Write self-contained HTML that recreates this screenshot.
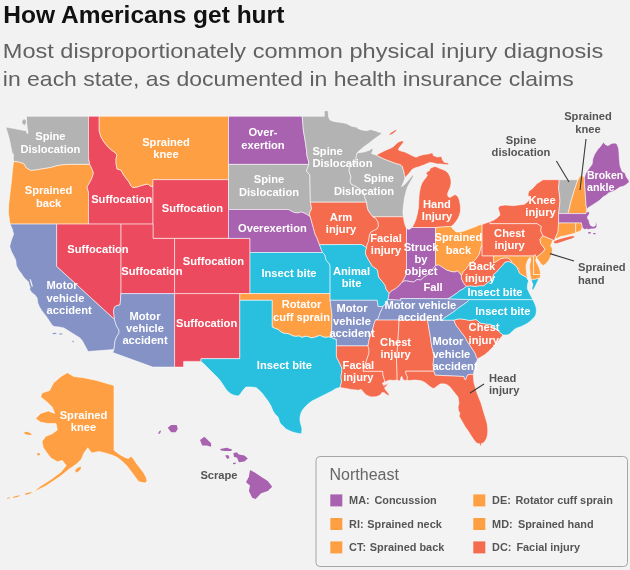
<!DOCTYPE html>
<html lang="en"><head><meta charset="utf-8"><title>How Americans get hurt</title>
<style>
html,body{margin:0;padding:0;background:#f2f2f2;}
body{width:630px;height:570px;overflow:hidden;font-family:"Liberation Sans",Arial,Helvetica,sans-serif;}
svg{display:block;}
.st path{stroke:#fff;stroke-width:0.75;stroke-linejoin:round;stroke-opacity:0.72}
.w{fill:#fff;font-weight:bold;font-size:11.15px;}
.d{fill:#555;font-weight:bold;font-size:11.15px;}
.ld{stroke:#3a3a3a;stroke-width:1.1;fill:none}
.t1{font-weight:bold;font-size:23.6px;fill:#111;}
.t2{font-size:21px;fill:#616161;}
.lt{font-size:16px;fill:#666;}
.li{font-weight:bold;font-size:10.9px;fill:#555;}
</style></head><body>
<svg width="630" height="570" viewBox="0 0 630 570" font-family="'Liberation Sans',Arial,Helvetica,sans-serif">
<rect width="630" height="570" fill="#f2f2f2"/>
<text class="t1" x="3.3" y="22.7" textLength="281" lengthAdjust="spacingAndGlyphs">How Americans get hurt</text>
<text class="t2" x="2.8" y="58" textLength="600.5" lengthAdjust="spacingAndGlyphs">Most disproportionately common physical injury diagnosis</text>
<text class="t2" x="2.8" y="86" textLength="571" lengthAdjust="spacingAndGlyphs">in each state, as documented in health insurance claims</text>
<g class="st">
<path id="WA" fill="#b3b3b3" d="M26.4,116.3L88.5,116.3L88.5,158.0L89.8,164.4L68.6,164.4L62.9,164.8L57.1,165.7L50.0,167.7L42.9,168.8L35.7,170.0L30.7,170.5L26.4,167.9L23.6,163.6L18.6,162.1L13.6,161.4L13.2,158.0L13.6,154.3L12.1,152.9L11.1,147.9L10.0,142.1L8.6,136.4L7.1,131.4L5.7,127.1L14.3,128.6L21.4,130.0L26.4,130.7L26.8,133.0L28.0,133.5L27.6,130.0L27.0,126.0L26.6,121.0Z"/>
<path id="OR" fill="#ff9f43" d="M13.6,161.4L18.6,162.1L23.6,163.6L26.4,167.9L30.7,170.5L35.7,170.0L42.9,168.8L50.0,167.7L57.1,165.7L62.9,164.8L68.6,164.4L89.8,164.4L92.0,169.0L93.5,173.0L92.0,178.0L90.0,182.0L87.0,187.0L88.5,192.0L88.5,224.1L56.6,224.1L10.0,224.1L8.4,213.0L8.6,205.0L9.5,197.0L10.6,188.0L11.6,180.0L12.3,172.0L13.0,166.0Z"/>
<path id="ID" fill="#ec4a5e" d="M88.5,116.3L99.2,116.3L99.2,131.0L101.0,137.0L104.0,142.0L108.0,147.0L112.0,150.5L114.5,152.0L117.0,155.0L116.0,159.0L116.0,163.0L117.0,169.0L121.0,170.0L123.0,174.0L125.0,177.0L129.0,182.0L131.0,186.0L133.0,187.5L137.0,187.0L140.0,186.0L145.0,184.5L148.0,184.0L150.0,186.0L153.0,186.5L153.0,224.1L88.5,224.1L88.5,192.0L87.0,187.0L90.0,182.0L92.0,178.0L93.5,173.0L92.0,169.0L89.8,164.4L88.5,158.0Z"/>
<path id="MT" fill="#ff9f43" d="M99.2,116.3L228.5,116.3L228.5,179.7L153.0,179.7L153.0,186.5L150.0,186.0L148.0,184.0L145.0,184.5L140.0,186.0L137.0,187.0L133.0,187.5L131.0,186.0L129.0,182.0L125.0,177.0L123.0,174.0L121.0,170.0L117.0,169.0L116.0,163.0L116.0,159.0L117.0,155.0L114.5,152.0L112.0,150.5L108.0,147.0L104.0,142.0L101.0,137.0L99.2,131.0Z"/>
<path id="WY" fill="#ec4a5e" d="M153.0,179.7L228.5,179.7L228.5,238.4L153.0,238.4Z"/>
<path id="UT" fill="#ec4a5e" d="M120.8,224.1L153.0,224.1L153.0,238.4L174.6,238.4L174.6,293.6L120.8,293.6Z"/>
<path id="CO" fill="#ec4a5e" d="M174.6,238.4L250.0,238.4L250.0,293.6L174.6,293.6Z"/>
<path id="NV" fill="#ec4a5e" d="M56.6,224.1L120.8,224.1L120.8,293.6L120.5,300.0L120.0,305.0L117.0,305.5L114.5,307.0L113.5,311.0L114.0,315.0L114.5,319.5L56.6,266.4Z"/>
<path id="CA" fill="#8592c6" d="M10.0,224.1L56.6,224.1L56.6,266.4L114.5,319.5L115.5,323.0L116.5,326.0L119.0,330.0L119.0,333.0L116.5,337.0L115.0,341.0L114.5,345.0L114.0,349.5L88.0,351.5L86.0,347.5L84.0,344.0L82.5,341.0L80.0,338.0L76.0,335.5L72.0,333.0L68.0,330.5L64.0,328.0L59.0,327.0L54.0,326.5L52.0,325.0L50.0,322.0L48.0,319.0L46.0,316.0L44.0,313.5L42.0,311.0L39.5,307.0L37.8,303.0L37.1,297.9L35.0,295.0L32.1,292.9L29.6,289.5L30.2,287.5L29.0,284.5L28.5,281.8L26.4,280.0L23.6,277.1L21.4,273.6L18.6,270.0L16.4,265.7L15.7,260.0L13.6,255.7L11.4,251.4L9.7,246.4L11.4,240.0L13.6,234.3L12.1,228.6Z"/>
<path id="AZ" fill="#8592c6" d="M120.8,293.6L174.6,293.6L174.6,367.1L152.8,367.1L112.7,352.5L114.0,349.5L114.5,345.0L115.0,341.0L116.5,337.0L119.0,333.0L119.0,330.0L116.5,326.0L115.5,323.0L114.5,319.5L114.0,315.0L113.5,311.0L114.5,307.0L117.0,305.5L120.0,305.0L120.5,300.0Z"/>
<path id="NM" fill="#ec4a5e" d="M174.6,293.6L239.8,293.6L239.8,358.7L201.0,358.7L201.0,361.4L183.6,361.4L183.6,367.1L174.6,367.1Z"/>
<path id="ND" fill="#a862b0" d="M228.5,116.3L302.2,116.3L302.8,123.0L303.3,130.0L304.5,137.0L305.5,143.0L306.6,150.7L307.0,156.0L308.5,161.0L309.0,164.4L228.5,164.4Z"/>
<path id="SD" fill="#b3b3b3" d="M228.5,164.4L309.0,164.4L307.5,168.0L306.5,171.0L308.0,173.0L309.8,174.5L310.4,202.2L311.0,205.0L311.5,209.0L310.0,212.0L309.5,214.5L310.4,217.0L307.0,214.5L304.0,213.0L301.0,212.0L298.0,213.0L294.0,212.5L291.0,211.0L288.3,209.5L228.5,209.5Z"/>
<path id="NE" fill="#a862b0" d="M228.5,209.5L288.3,209.5L291.0,211.0L294.0,212.5L298.0,213.0L301.0,212.0L304.0,213.0L307.0,214.5L310.4,217.0L311.5,221.0L312.5,225.0L314.0,230.0L315.0,234.0L317.0,238.0L318.5,242.0L319.5,244.7L321.0,249.0L322.6,252.5L250.0,252.5L250.0,238.4L228.5,238.4Z"/>
<path id="KS" fill="#29bfdf" d="M250.0,252.5L322.6,252.5L325.0,255.0L326.0,260.0L329.5,264.0L330.1,266.0L330.1,293.6L250.0,293.6Z"/>
<path id="OK" fill="#ff9f43" d="M239.8,293.6L330.1,293.6L330.1,300.3L332.0,315.0L331.5,337.5L328.5,336.9L326.0,337.4L323.0,336.9L320.0,335.4L317.0,336.4L314.0,337.4L311.0,337.9L308.0,336.4L305.0,336.4L302.0,337.4L299.0,335.9L296.0,336.4L293.0,335.9L290.0,334.4L287.0,333.4L284.0,333.4L281.0,331.9L278.0,329.4L275.0,328.4L272.1,327.0L272.1,300.3L239.8,300.3Z"/>
<path id="TX" fill="#29bfdf" d="M239.8,300.3L272.1,300.3L272.1,327.0L275.0,328.4L278.0,329.4L281.0,331.9L284.0,333.4L287.0,333.4L290.0,334.4L293.0,335.9L296.0,336.4L299.0,335.9L302.0,337.4L305.0,336.4L308.0,336.4L311.0,337.9L314.0,337.4L317.0,336.4L320.0,335.4L323.0,336.9L326.0,337.4L328.5,336.9L331.5,337.5L336.4,339.5L336.4,345.9L336.4,357.0L338.5,361.0L340.5,365.0L342.0,369.0L341.5,373.0L341.0,377.0L341.5,382.0L340.0,387.5L336.0,388.5L332.0,391.0L328.0,393.0L324.0,395.0L320.0,397.0L316.0,399.0L312.0,401.0L308.0,404.0L305.0,407.0L302.5,410.0L301.0,413.0L300.0,417.0L300.0,421.0L301.0,425.0L302.0,429.0L301.5,434.0L294.0,432.5L290.0,431.0L286.0,429.0L283.0,426.0L280.0,423.0L279.0,420.0L278.0,417.0L275.0,414.0L273.0,411.0L271.0,406.0L268.0,401.0L265.0,397.0L262.0,393.0L259.0,390.0L256.0,387.5L251.0,387.0L246.0,387.0L244.0,389.0L242.0,391.5L240.0,394.5L238.0,396.0L235.0,395.5L232.0,394.5L229.0,392.5L226.5,390.0L224.5,387.0L222.5,384.0L220.5,381.0L218.0,378.0L215.0,375.0L211.0,371.0L207.0,367.0L204.0,364.0L201.0,361.4L201.0,358.7L239.8,358.7Z"/>
<path id="MN" fill="#b3b3b3" d="M302.2,116.3L324.3,116.3L324.3,110.7L328.1,110.7L328.6,117.0L330.0,120.0L333.6,121.4L337.9,122.1L343.6,122.9L346.4,123.6L349.5,125.2L352.1,126.4L356.4,127.1L357.9,128.6L362.1,130.0L366.4,130.7L370.7,129.5L375.0,130.7L378.5,132.0L382.3,133.2L378.5,136.0L375.0,138.6L372.0,140.8L369.3,142.9L363.6,147.1L359.3,150.7L357.0,153.0L356.0,158.0L356.0,163.0L352.0,164.5L350.0,166.0L349.0,170.0L350.0,174.0L351.0,177.0L350.0,181.0L351.0,184.0L354.0,185.5L357.0,187.0L360.0,189.0L362.0,191.5L364.0,194.0L365.0,198.0L366.7,202.2L310.4,202.2L309.8,174.5L308.0,173.0L306.5,171.0L307.5,168.0L309.0,164.4L308.5,161.0L307.0,156.0L306.6,150.7L305.5,143.0L304.5,137.0L303.3,130.0L302.8,123.0Z"/>
<path id="IA" fill="#f56b4e" d="M310.4,202.2L366.7,202.2L367.0,206.0L368.0,210.0L370.0,213.0L373.0,216.8L376.0,218.5L378.0,222.0L378.5,226.0L377.0,229.0L374.0,230.5L371.0,232.0L369.5,235.0L369.0,238.0L368.5,241.5L367.0,245.0L366.5,248.0L364.0,246.0L361.2,244.5L319.5,244.7L318.5,242.0L317.0,238.0L315.0,234.0L314.0,230.0L312.5,225.0L311.5,221.0L310.4,217.0L309.5,214.5L310.0,212.0L311.5,209.0L311.0,205.0Z"/>
<path id="MO" fill="#29bfdf" d="M319.5,244.7L361.2,244.5L364.0,246.0L366.5,248.0L365.5,251.0L365.5,254.0L367.0,257.0L368.5,260.0L370.5,263.0L372.0,266.0L375.0,268.0L377.5,270.0L378.0,273.0L378.5,277.0L381.0,280.0L383.5,283.0L385.5,286.0L386.0,289.0L387.5,291.0L389.2,293.6L388.6,296.5L388.0,299.5L385.8,303.0L383.0,306.5L378.0,306.5L377.5,303.0L377.0,300.3L330.1,300.3L330.1,293.6L330.1,266.0L329.5,264.0L326.0,260.0L325.0,255.0L322.6,252.5L321.0,249.0Z"/>
<path id="AR" fill="#8592c6" d="M330.1,300.3L377.0,300.3L377.5,303.0L378.0,306.5L383.0,306.5L381.5,310.0L380.0,313.0L379.0,316.0L378.0,319.0L375.5,320.1L374.0,324.0L373.0,328.0L372.0,331.0L371.0,334.0L370.0,337.0L369.0,340.0L368.5,343.0L368.0,345.9L336.4,345.9L336.4,339.5L331.5,337.5L332.0,315.0Z"/>
<path id="LA" fill="#f56b4e" d="M336.4,345.9L368.0,345.9L369.0,349.5L369.0,353.0L368.0,356.0L367.0,359.0L366.0,362.0L365.0,365.0L364.0,368.5L363.0,371.2L382.7,371.2L383.0,375.0L384.0,378.5L385.0,382.0L382.5,383.0L383.6,385.5L386.4,384.3L388.6,383.0L387.1,385.2L384.5,387.9L385.7,390.0L388.6,393.6L389.5,396.0L387.1,395.0L384.3,392.8L382.1,392.5L380.0,395.3L376.0,396.7L371.0,396.9L366.5,395.2L363.5,392.2L361.0,389.3L358.6,390.3L351.4,389.5L344.3,388.2L340.0,387.5L341.5,382.0L341.0,377.0L341.5,373.0L342.0,369.0L340.5,365.0L338.5,361.0L336.4,357.0Z"/>
<path id="WI" fill="#b3b3b3" d="M357.0,153.0L360.0,152.5L364.0,152.0L367.0,151.0L370.0,150.0L372.0,148.0L373.0,150.0L371.5,153.5L374.0,154.5L376.5,155.0L380.0,157.0L384.0,159.0L388.0,160.5L392.0,162.0L396.0,163.5L400.0,164.5L402.5,166.5L403.0,169.0L404.0,172.0L404.5,175.0L405.0,178.0L404.0,181.0L402.5,184.5L401.5,186.5L403.5,185.5L406.0,183.0L408.5,180.0L411.0,177.0L413.0,174.5L413.5,176.0L412.0,179.0L410.0,182.5L408.0,186.0L406.5,190.0L405.5,194.0L404.5,198.0L404.0,202.0L403.5,206.0L403.0,210.0L403.0,214.0L403.5,216.8L373.0,216.8L370.0,213.0L368.0,210.0L367.0,206.0L366.7,202.2L365.0,198.0L364.0,194.0L362.0,191.5L360.0,189.0L357.0,187.0L354.0,185.5L351.0,184.0L350.0,181.0L351.0,177.0L350.0,174.0L349.0,170.0L350.0,166.0L352.0,164.5L356.0,163.0L356.0,158.0Z"/>
<path id="IL" fill="#f56b4e" d="M373.0,216.8L403.5,216.8L404.0,221.0L405.0,225.0L406.5,228.5L406.5,273.0L405.5,276.0L404.0,279.0L402.1,282.3L400.5,283.8L399.3,285.5L397.5,287.0L395.7,288.6L392.5,290.3L390.5,291.8L389.2,293.6L387.5,291.0L386.0,289.0L385.5,286.0L383.5,283.0L381.0,280.0L378.5,277.0L378.0,273.0L377.5,270.0L375.0,268.0L372.0,266.0L370.5,263.0L368.5,260.0L367.0,257.0L365.5,254.0L365.5,251.0L366.5,248.0L367.0,245.0L368.5,241.5L369.0,238.0L369.5,235.0L371.0,232.0L374.0,230.5L377.0,229.0L378.5,226.0L378.0,222.0L376.0,218.5Z"/>
<path id="IN" fill="#a862b0" d="M406.5,228.5L409.0,229.5L412.0,227.5L435.5,227.5L435.5,265.5L434.0,267.5L432.1,270.0L429.3,273.6L426.4,275.7L423.6,277.3L420.7,280.0L417.1,279.5L413.6,282.1L409.3,281.4L405.0,280.7L402.1,282.3L404.0,279.0L405.5,276.0L406.5,273.0Z"/>
<path id="MI" fill="#f56b4e" d="M412.0,227.5L414.0,224.0L416.0,219.0L417.5,213.0L418.5,207.0L418.8,201.0L419.0,196.0L419.5,192.0L420.5,187.0L422.0,183.0L424.0,180.0L426.0,177.5L427.5,175.0L426.0,173.5L427.5,171.5L429.5,170.5L430.0,168.5L432.0,167.5L434.5,166.5L437.0,167.0L440.0,168.5L443.0,169.5L446.0,171.0L448.5,173.5L450.0,176.5L451.0,180.0L451.0,184.0L450.0,188.0L448.5,191.0L447.5,194.0L448.0,196.5L450.0,197.5L452.5,196.0L455.0,194.5L457.5,196.0L459.0,199.0L460.0,203.0L460.5,207.0L460.5,211.0L459.5,215.0L458.0,218.5L456.0,221.5L453.5,224.5L451.0,226.5L435.5,227.5Z"/>
<path id="MIup" fill="#f56b4e" d="M376.5,155.0L380.0,153.0L384.0,151.0L388.0,149.3L391.0,148.0L393.5,146.5L396.0,144.0L398.5,142.0L401.0,141.0L404.0,141.0L403.0,143.0L401.0,145.5L399.0,148.0L398.5,150.0L401.0,151.0L405.0,152.0L409.0,154.0L413.0,156.0L416.0,157.2L420.0,155.5L424.0,154.5L428.0,154.0L432.5,152.7L433.3,155.5L437.0,157.0L441.5,156.5L442.5,160.0L444.5,162.5L447.0,162.8L449.3,163.3L447.5,164.8L444.0,164.5L441.0,164.0L437.0,164.0L433.5,163.0L430.0,162.5L427.0,163.5L424.0,165.0L421.0,166.0L418.5,167.0L416.0,167.5L414.0,168.5L412.0,169.5L410.5,171.5L408.5,174.0L406.5,176.0L405.0,178.0L404.5,175.0L404.0,172.0L403.0,169.0L402.5,166.5L400.0,164.5L396.0,163.5L392.0,162.0L388.0,160.5L384.0,159.0L380.0,157.0Z"/>
<path id="MIir" fill="#f56b4e" d="M389.0,134.5L391.5,132.5L394.0,131.0L396.5,129.5L396.0,131.0L393.5,133.0L391.0,134.5Z" style="stroke:none"/>
<path id="OH" fill="#ff9f43" d="M435.5,227.5L451.0,226.5L453.0,229.0L456.0,232.0L460.0,232.0L464.0,231.0L468.0,229.5L472.0,228.0L476.0,226.5L479.0,225.0L482.1,224.5L482.1,244.5L482.0,244.5L480.7,248.6L479.3,254.3L476.4,258.6L473.6,261.4L469.3,264.3L466.4,268.6L463.6,271.4L461.4,275.7L459.5,272.9L457.3,270.9L455.0,272.1L450.7,271.4L446.4,270.0L442.1,267.1L438.6,265.0L435.5,265.5Z"/>
<path id="KY" fill="#a862b0" d="M389.2,293.6L390.5,291.8L392.5,290.3L395.7,288.6L397.5,287.0L399.3,285.5L400.5,283.8L402.1,282.3L405.0,280.7L409.3,281.4L413.6,282.1L417.1,279.5L420.7,280.0L423.6,277.3L426.4,275.7L429.3,273.6L432.1,270.0L434.0,267.5L435.5,265.5L438.6,265.0L442.1,267.1L446.4,270.0L450.7,271.4L455.0,272.1L457.3,270.9L459.5,272.9L461.4,275.7L461.4,278.6L463.6,282.9L466.4,286.4L463.0,289.0L460.0,290.5L457.0,293.0L454.0,295.0L451.0,297.0L448.0,298.8L400.8,298.5L400.8,300.3L388.0,299.5L388.6,296.5Z"/>
<path id="TN" fill="#8592c6" d="M388.0,299.5L400.8,300.3L400.8,298.5L448.0,298.8L469.5,299.6L467.0,302.0L465.0,303.5L462.0,305.5L459.0,307.5L456.5,309.5L454.0,311.5L451.0,313.5L448.0,315.5L445.0,317.5L441.5,320.1L375.5,320.1L378.0,319.0L379.0,316.0L380.0,313.0L381.5,310.0L383.0,306.5L385.8,303.0Z"/>
<path id="MS" fill="#f56b4e" d="M375.5,320.1L399.1,320.1L398.3,335.0L397.3,350.0L396.5,360.0L397.0,372.0L397.2,380.0L393.0,380.5L390.0,380.0L387.0,381.0L385.0,382.0L384.0,378.5L383.0,375.0L382.7,371.2L363.0,371.2L364.0,368.5L365.0,365.0L366.0,362.0L367.0,359.0L368.0,356.0L369.0,353.0L369.0,349.5L368.0,345.9L368.5,343.0L369.0,340.0L370.0,337.0L371.0,334.0L372.0,331.0L373.0,328.0L374.0,324.0Z"/>
<path id="AL" fill="#f56b4e" d="M399.1,320.1L427.5,320.1L429.0,329.0L430.5,338.0L431.8,347.0L433.0,351.0L434.0,356.0L433.5,361.0L433.0,365.0L433.8,368.0L433.8,371.2L405.7,371.2L406.0,374.0L407.5,377.0L407.0,380.5L404.0,380.5L402.5,378.5L402.0,376.5L401.0,377.0L400.5,380.0L399.0,381.0L397.2,380.0L397.0,372.0L396.5,360.0L397.3,350.0L398.3,335.0Z"/>
<path id="GA" fill="#8592c6" d="M427.5,320.1L454.0,320.1L455.0,323.0L456.5,326.0L459.0,329.0L461.0,332.0L463.5,335.0L465.5,338.0L467.0,341.0L469.0,344.0L471.0,347.0L473.0,350.0L475.0,353.0L476.0,356.0L477.5,359.0L476.5,362.0L475.5,365.0L475.0,368.0L474.0,371.0L473.3,374.5L470.0,374.3L467.5,375.0L466.5,377.5L465.5,380.0L464.3,378.5L463.8,376.5L435.2,375.2L434.5,373.0L433.8,371.2L433.8,368.0L433.0,365.0L433.5,361.0L434.0,356.0L433.0,351.0L431.8,347.0L430.5,338.0L429.0,329.0Z"/>
<path id="FL" fill="#f56b4e" d="M433.8,371.2L434.5,373.0L435.2,375.2L463.8,376.5L464.3,378.5L465.5,380.0L466.5,377.5L467.5,375.0L470.0,374.3L473.3,374.5L473.5,378.0L474.0,383.0L475.5,388.0L477.0,393.0L479.0,398.0L481.0,403.0L482.5,408.0L484.0,413.0L485.5,418.0L487.0,423.0L487.6,427.0L487.8,431.0L487.5,435.0L486.5,438.5L485.0,441.3L483.0,443.2L481.3,443.5L481.6,445.6L480.3,446.0L479.6,443.8L477.5,443.5L475.5,442.0L474.0,440.0L472.0,437.0L470.0,434.0L468.2,431.0L466.4,428.5L464.5,425.8L463.0,423.0L461.0,419.5L459.0,416.0L460.0,413.0L458.5,411.0L458.0,407.0L459.0,403.0L458.5,400.0L458.0,397.0L456.0,394.5L454.0,392.0L452.0,389.5L450.0,387.0L447.5,385.0L445.0,384.0L442.5,383.8L440.0,384.0L438.0,385.5L436.0,387.0L434.0,388.5L432.0,388.0L430.0,386.5L428.0,385.0L425.0,382.5L422.0,381.0L418.0,380.3L414.0,380.0L410.0,380.5L407.0,380.5L407.5,377.0L406.0,374.0L405.7,371.2Z"/>
<path id="SC" fill="#f56b4e" d="M454.0,320.1L457.0,319.3L460.0,318.8L465.0,319.5L470.0,320.5L476.0,319.5L478.0,321.0L480.0,323.0L486.0,324.0L491.0,324.5L503.0,335.0L500.0,338.6L497.1,342.9L492.9,347.1L488.6,351.4L484.3,355.0L481.0,357.0L477.5,359.0L476.0,356.0L475.0,353.0L473.0,350.0L471.0,347.0L469.0,344.0L467.0,341.0L465.5,338.0L463.5,335.0L461.0,332.0L459.0,329.0L456.5,326.0L455.0,323.0Z"/>
<path id="NC" fill="#29bfdf" d="M469.5,299.6L532.9,299.6L534.0,302.0L535.0,304.3L536.0,307.0L536.4,310.0L536.2,313.0L535.5,315.5L534.0,317.5L532.5,319.0L530.0,321.4L527.5,323.2L525.7,324.3L521.4,326.4L517.1,327.9L515.0,329.0L512.9,330.7L511.3,332.3L510.0,333.8L507.1,335.0L503.0,335.0L491.0,324.5L486.0,324.0L480.0,323.0L478.0,321.0L476.0,319.5L470.0,320.5L465.0,319.5L460.0,318.8L457.0,319.3L454.0,320.1L441.5,320.1L445.0,317.5L448.0,315.5L451.0,313.5L454.0,311.5L456.5,309.5L459.0,307.5L462.0,305.5L465.0,303.5L467.0,302.0Z"/>
<path id="VA" fill="#29bfdf" d="M448.0,298.8L451.0,297.0L454.0,295.0L457.0,293.0L460.0,290.5L463.0,289.0L466.4,286.4L470.7,285.7L475.0,286.4L479.3,285.7L483.6,285.7L486.4,283.6L489.3,281.4L492.1,278.6L493.6,274.3L496.4,272.1L499.3,268.6L502.1,265.7L505.0,262.1L508.6,261.4L512.1,262.9L515.0,265.0L517.9,268.6L519.3,272.9L522.1,275.0L526.4,277.1L528.6,280.7L527.5,284.5L527.3,288.5L528.6,291.4L530.7,295.7L532.9,299.6L469.5,299.6Z"/>
<path id="VAes" fill="#29bfdf" d="M531.5,280.0L534.0,279.5L538.5,278.5L537.0,282.0L535.3,285.5L533.8,288.5L532.6,290.0L532.3,288.0L533.3,284.5Z" style="stroke:none"/>
<path id="WV" fill="#f56b4e" d="M461.4,275.7L463.6,271.4L466.4,268.6L469.3,264.3L473.6,261.4L476.4,258.6L479.3,254.3L480.7,248.6L482.0,244.5L482.1,244.5L482.1,255.8L493.6,255.8L493.6,262.9L496.4,261.4L500.7,258.6L504.3,257.9L507.9,257.9L510.7,260.0L512.1,262.9L508.6,261.4L505.0,262.1L502.1,265.7L499.3,268.6L496.4,272.1L493.6,274.3L492.1,278.6L489.3,281.4L486.4,283.6L483.6,285.7L479.3,285.7L475.0,286.4L470.7,285.7L466.4,286.4L463.6,282.9L461.4,278.6Z"/>
<path id="MD" fill="#ff9f43" d="M493.6,255.8L533.6,255.8L533.6,274.5L540.7,274.5L540.0,278.0L534.0,279.5L531.5,280.0L530.2,275.7L530.0,272.0L529.5,268.6L529.6,265.0L530.8,260.0L530.3,257.3L528.8,258.5L527.2,261.4L526.0,265.7L526.4,271.4L527.0,275.7L528.6,280.7L526.4,277.1L522.1,275.0L519.3,272.9L517.9,268.6L515.0,265.0L512.1,262.9L510.7,260.0L507.9,257.9L504.3,257.9L500.7,258.6L496.4,261.4L493.6,262.9Z"/>
<path id="DE" fill="#ff9f43" d="M533.6,255.8L535.0,254.5L536.4,257.1L535.7,260.7L537.9,265.0L539.3,268.0L540.0,270.7L540.7,274.5L533.6,274.5Z"/>
<path id="PA" fill="#f56b4e" d="M482.1,224.5L486.0,223.0L490.0,221.5L490.0,223.6L537.1,223.6L541.4,226.4L540.7,230.7L542.9,235.7L540.0,239.3L540.7,243.6L542.9,246.4L545.0,249.3L542.9,252.1L539.3,255.0L536.4,257.1L535.0,254.5L533.6,255.8L482.1,255.8L482.1,244.5Z"/>
<path id="NJ" fill="#ff9f43" d="M542.9,235.7L553.0,240.0L551.5,243.5L550.5,245.7L552.2,248.0L552.4,251.0L551.6,254.0L550.4,257.0L549.0,260.0L547.0,262.5L545.0,264.5L543.3,265.6L541.0,264.0L539.5,261.5L537.5,259.0L536.4,257.1L539.3,255.0L542.9,252.1L545.0,249.3L542.9,246.4L540.7,243.6L540.0,239.3Z"/>
<path id="NY" fill="#f56b4e" d="M490.0,221.5L493.0,220.5L497.0,218.0L500.0,215.0L499.3,212.0L498.0,208.0L500.0,205.7L505.7,205.0L513.0,205.7L518.6,205.0L524.3,204.3L528.0,201.5L529.3,198.0L528.0,195.0L528.6,191.4L533.0,188.0L537.0,183.6L543.0,179.7L559.3,179.7L558.6,188.0L559.3,193.6L560.0,200.7L559.3,208.0L558.6,213.6L558.6,223.0L558.0,232.0L556.0,236.5L555.0,238.5L554.3,240.8L553.0,240.0L542.9,235.7L540.7,230.7L541.4,226.4L537.1,223.6L490.0,223.6Z"/>
<path id="NYli" fill="#f56b4e" d="M554.0,241.5L557.0,240.0L562.0,238.5L567.0,237.2L571.0,236.2L574.0,236.3L574.5,237.3L571.0,238.8L566.0,240.3L561.0,242.0L557.0,243.3L554.3,243.3Z" style="stroke:none"/>
<path id="VT" fill="#b3b3b3" d="M559.3,179.7L578.0,179.7L576.5,184.0L575.0,188.0L573.5,193.0L572.0,198.0L570.5,203.0L569.5,208.0L568.0,213.6L558.6,213.6L559.3,208.0L560.0,200.7L559.3,193.6L558.6,188.0Z"/>
<path id="NH" fill="#ff9f43" d="M578.0,179.7L579.5,177.0L581.0,175.5L583.0,176.0L584.3,178.0L585.0,189.0L585.5,197.0L586.0,205.0L587.0,210.0L586.0,212.5L586.0,213.6L568.0,213.6L569.5,208.0L570.5,203.0L572.0,198.0L573.5,193.0L575.0,188.0L576.5,184.0Z"/>
<path id="ME" fill="#a862b0" d="M584.3,178.0L585.7,173.5L589.3,168.0L592.1,164.3L592.9,158.6L594.5,154.5L596.4,151.4L598.0,149.0L600.0,147.1L601.8,144.5L603.6,142.1L605.0,144.3L607.9,145.7L611.4,143.6L615.0,142.9L617.1,144.3L618.6,148.6L619.0,153.0L619.3,158.6L620.0,165.7L622.1,171.4L625.0,172.9L626.4,177.1L628.6,180.0L629.3,182.1L625.7,185.0L622.9,186.4L620.0,187.1L615.7,190.0L612.9,191.4L608.6,192.9L606.4,195.0L602.9,197.1L600.0,200.0L595.7,202.9L591.4,205.7L587.9,207.9L587.0,210.0L586.0,205.0L585.5,197.0L585.0,189.0Z"/>
<path id="MA" fill="#a862b0" d="M558.6,213.6L586.0,213.6L586.0,212.5L588.0,211.5L589.5,212.5L589.0,214.5L587.5,216.5L587.5,218.5L589.0,220.5L589.5,223.0L590.5,225.5L593.0,226.5L595.0,226.0L595.8,224.0L595.0,222.0L596.3,222.5L597.0,225.0L596.5,227.5L594.5,228.8L591.0,229.0L588.5,229.5L586.5,229.0L584.5,229.5L583.0,228.5L582.1,227.1L581.4,223.0L558.6,223.0Z"/>
<path id="MAi1" fill="#a862b0" d="M588.0,232.3L590.5,232.0L591.0,233.3L588.5,233.8Z" style="stroke:none"/>
<path id="MAi2" fill="#a862b0" d="M593.0,233.0L595.5,233.0L595.5,234.3L593.5,234.3Z" style="stroke:none"/>
<path id="CT" fill="#ff9f43" d="M558.6,223.0L575.7,223.0L575.7,232.9L572.0,234.0L568.0,235.0L564.0,236.0L560.7,236.5L558.0,238.0L555.0,238.5L556.0,236.5L558.0,232.0Z"/>
<path id="RI" fill="#ff9f43" d="M575.7,223.0L581.4,223.0L582.1,227.1L581.5,229.5L580.5,231.0L578.5,231.5L576.5,232.5L575.7,232.9Z"/>
<path id="WAi" fill="#b3b3b3" d="M22.3,121.0L23.5,119.5L25.0,119.5L26.0,121.0L25.8,123.0L24.5,125.2L23.0,124.0L22.2,122.5Z" style="stroke:none"/>
<path id="CAi1" fill="#8592c6" d="M52.0,333.2L55.0,332.8L57.0,333.5L54.0,334.2Z" style="stroke:none"/>
<path id="CAi2" fill="#8592c6" d="M59.0,333.5L62.5,333.6L62.0,334.6L59.5,334.4Z" style="stroke:none"/>
<path id="CAi3" fill="#8592c6" d="M72.5,340.5L74.0,341.5L73.6,342.6L72.3,341.6Z" style="stroke:none"/>
<path id="SFbay" fill="#f2f2f2" d="M29.6,279.2L30.6,279.0L32.0,283.0L32.8,286.5L31.9,287.0L30.6,283.2Z" style="stroke:none"/>
<path id="DC" fill="#f56b4e" d="M518.3,268.2L519.6,269.2L518.6,270.4L517.4,269.4Z"/>
<path id="AK" fill="#ff9f43" d="M67.4,372.7L73.8,376.5L84.0,377.8L96.7,380.4L109.4,384.2L114.0,385.4L114.0,450.3L119.6,454.4L125.0,457.5L128.5,458.5L131.0,456.2L133.5,459.0L136.5,463.5L140.0,468.0L143.5,472.5L146.0,477.0L147.0,480.5L145.5,483.0L142.0,482.5L138.5,481.5L136.0,478.0L133.0,474.0L130.0,470.0L127.0,466.0L123.5,462.5L120.0,459.5L116.5,457.0L113.0,455.5L106.9,453.4L99.2,451.6L91.6,452.9L87.8,447.8L84.0,452.9L81.4,459.2L76.3,464.3L68.7,469.4L61.0,475.8L53.4,480.9L45.8,486.0L38.2,489.8L33.0,492.3L40.7,486.0L50.9,479.6L61.0,472.0L66.2,465.6L62.3,460.5L57.3,461.8L50.9,458.0L47.0,452.9L43.3,447.8L42.0,441.4L45.8,436.3L52.2,433.8L57.3,430.0L56.0,423.6L48.3,423.6L40.7,422.3L35.6,418.5L40.7,413.4L48.3,410.9L54.7,413.4L52.2,407.0L47.0,402.0L40.7,396.9L42.0,393.0L49.6,390.5L53.4,382.9L61.0,376.5Z"/>
<path id="AKkod" fill="#ff9f43" d="M75.0,470.5L77.5,468.0L80.5,466.5L81.0,468.5L79.0,471.0L76.5,472.5Z" style="stroke:none"/>
<path id="AKstl" fill="#ff9f43" d="M24.0,432.5L27.0,431.8L31.0,433.5L31.5,435.0L28.0,434.8L25.0,434.0Z" style="stroke:none"/>
<path id="AKnun" fill="#ff9f43" d="M37.0,453.5L39.5,453.0L40.0,455.0L37.5,455.5Z" style="stroke:none"/>
<path id="AKal1" fill="#ff9f43" d="M33.0,492.3L29.0,494.0L25.0,495.0L25.5,493.5L29.0,492.5Z" style="stroke:none"/>
<path id="AKal2" fill="#ff9f43" d="M21.0,495.5L17.0,497.0L13.0,498.0L13.5,496.8L17.0,495.8Z" style="stroke:none"/>
<path id="AKal3" fill="#ff9f43" d="M10.0,498.0L7.0,499.0L7.3,498.0L9.5,497.3Z" style="stroke:none"/>
<path id="HI1" fill="#a862b0" d="M158.0,433.5L159.5,431.0L161.0,430.4L160.5,432.5L159.0,434.0Z" style="stroke:none"/>
<path id="HI2" fill="#a862b0" d="M167.8,427.8L171.1,425.1L176.7,425.1L177.8,428.9L175.6,432.2L171.1,432.2Z" style="stroke:none"/>
<path id="HI3" fill="#a862b0" d="M200.0,440.0L204.4,436.7L207.8,440.0L211.1,443.3L211.1,446.7L206.7,445.6L202.2,445.6Z" style="stroke:none"/>
<path id="HI4" fill="#a862b0" d="M220.0,448.9L226.7,447.8L232.2,449.6L231.1,451.1L224.4,451.1L221.1,450.4Z" style="stroke:none"/>
<path id="HI5" fill="#a862b0" d="M225.1,455.6L228.2,455.1L229.6,457.8L227.3,458.9Z" style="stroke:none"/>
<path id="HI6" fill="#a862b0" d="M233.3,453.3L236.7,452.2L238.9,454.4L244.4,455.6L247.8,458.4L244.4,461.6L238.9,462.2L237.1,457.8L234.0,456.7Z" style="stroke:none"/>
<path id="HI7" fill="#a862b0" d="M232.9,462.9L235.6,462.4L235.6,464.0L233.3,464.2Z" style="stroke:none"/>
<path id="HI8" fill="#a862b0" d="M250.0,470.0L254.4,472.2L261.1,476.7L267.8,481.1L272.2,486.7L267.8,491.1L261.1,493.3L255.6,498.9L252.2,497.8L248.9,491.1L250.0,485.6L246.0,482.2L248.9,476.7Z" style="stroke:none"/>
</g>
<g class="ld">
<line x1="586" y1="139" x2="580" y2="190"/>
<line x1="556.4" y1="161" x2="569" y2="182"/>
<line x1="550" y1="253.6" x2="574" y2="261"/>
<line x1="484" y1="384" x2="470" y2="393"/>
</g>
<g>
<text class="w" x="50.4" y="140.4" text-anchor="middle">Spine</text>
<text class="w" x="50.4" y="152.7" text-anchor="middle">Dislocation</text>
<text class="w" x="48.6" y="194.4" text-anchor="middle">Sprained</text>
<text class="w" x="48.6" y="206.7" text-anchor="middle">back</text>
<text class="w" x="121.8" y="202.8" text-anchor="middle">Suffocation</text>
<text class="w" x="166" y="145.8" text-anchor="middle">Sprained</text>
<text class="w" x="166" y="158.1" text-anchor="middle">knee</text>
<text class="w" x="192.5" y="212.3" text-anchor="middle">Suffocation</text>
<text class="w" x="263" y="136.4" text-anchor="middle">Over-</text>
<text class="w" x="263" y="148.7" text-anchor="middle">exertion</text>
<text class="w" x="269" y="183.2" text-anchor="middle">Spine</text>
<text class="w" x="269" y="195.5" text-anchor="middle">Dislocation</text>
<text class="w" x="272.4" y="232.4" text-anchor="middle">Overexertion</text>
<text class="w" x="289" y="276.8" text-anchor="middle">Insect bite</text>
<text class="w" x="213.5" y="264.8" text-anchor="middle">Suffocation</text>
<text class="w" x="152" y="274.8" text-anchor="middle">Suffocation</text>
<text class="w" x="98" y="252.8" text-anchor="middle">Suffocation</text>
<text class="w" x="46.6" y="289.2" text-anchor="start">Motor</text>
<text class="w" x="46.6" y="301.5" text-anchor="start">vehicle</text>
<text class="w" x="46.6" y="313.8" text-anchor="start">accident</text>
<text class="w" x="145" y="319.8" text-anchor="middle">Motor</text>
<text class="w" x="145" y="332.1" text-anchor="middle">vehicle</text>
<text class="w" x="145" y="344.4" text-anchor="middle">accident</text>
<text class="w" x="206.6" y="326.8" text-anchor="middle">Suffocation</text>
<text class="w" x="284.4" y="369.4" text-anchor="middle">Insect bite</text>
<text class="w" x="301.5" y="308.2" text-anchor="middle">Rotator</text>
<text class="w" x="301.5" y="320.5" text-anchor="middle">cuff sprain</text>
<text class="w" x="312.4" y="154.8" text-anchor="start">Spine</text>
<text class="w" x="312.4" y="167.1" text-anchor="start">Dislocation</text>
<text class="w" x="394" y="182.4" text-anchor="end">Spine</text>
<text class="w" x="394" y="194.7" text-anchor="end">Dislocation</text>
<text class="w" x="341" y="220.8" text-anchor="middle">Arm</text>
<text class="w" x="341" y="233.1" text-anchor="middle">injury</text>
<text class="w" x="351.6" y="274.8" text-anchor="middle">Animal</text>
<text class="w" x="351.6" y="287.1" text-anchor="middle">bite</text>
<text class="w" x="386" y="241.8" text-anchor="middle">Facial</text>
<text class="w" x="386" y="254.1" text-anchor="middle">injury</text>
<text class="w" x="421" y="250.8" text-anchor="middle">Struck</text>
<text class="w" x="421" y="263.1" text-anchor="middle">by</text>
<text class="w" x="421" y="275.4" text-anchor="middle">object</text>
<text class="w" x="437" y="207.8" text-anchor="middle">Hand</text>
<text class="w" x="437" y="220.1" text-anchor="middle">Injury</text>
<text class="w" x="458.4" y="241.2" text-anchor="middle">Sprained</text>
<text class="w" x="458.4" y="253.5" text-anchor="middle">back</text>
<text class="w" x="433" y="290.8" text-anchor="middle">Fall</text>
<text class="w" x="495.3" y="269.5" text-anchor="end">Back</text>
<text class="w" x="495.3" y="281.8" text-anchor="end">injury</text>
<text class="w" x="509.6" y="236.8" text-anchor="middle">Chest</text>
<text class="w" x="509.6" y="249.1" text-anchor="middle">injury</text>
<text class="w" x="555.7" y="203.8" text-anchor="end">Knee</text>
<text class="w" x="555.7" y="216.1" text-anchor="end">injury</text>
<text class="w" x="495" y="295.8" text-anchor="middle">Insect bite</text>
<text class="w" x="502.8" y="314.8" text-anchor="middle">Insect bite</text>
<text class="w" x="420.3" y="309.1" text-anchor="middle">Motor vehicle</text>
<text class="w" x="420.3" y="321.4" text-anchor="middle">accident</text>
<text class="w" x="352" y="312.4" text-anchor="middle">Motor</text>
<text class="w" x="352" y="324.7" text-anchor="middle">vehicle</text>
<text class="w" x="352" y="337.0" text-anchor="middle">accident</text>
<text class="w" x="358.4" y="368.5" text-anchor="middle">Facial</text>
<text class="w" x="358.4" y="380.8" text-anchor="middle">injury</text>
<text class="w" x="395.6" y="345.8" text-anchor="middle">Chest</text>
<text class="w" x="395.6" y="358.1" text-anchor="middle">injury</text>
<text class="w" x="432.4" y="345.4" text-anchor="start">Motor</text>
<text class="w" x="432.4" y="357.7" text-anchor="start">vehicle</text>
<text class="w" x="432.4" y="370.0" text-anchor="start">accident</text>
<text class="w" x="468.6" y="331.4" text-anchor="start">Chest</text>
<text class="w" x="468.6" y="343.7" text-anchor="start">injury</text>
<text class="w" x="587" y="178.8" text-anchor="start" textLength="36.2" lengthAdjust="spacingAndGlyphs">Broken</text>
<text class="w" x="587" y="191.1" text-anchor="start" textLength="27.4" lengthAdjust="spacingAndGlyphs">ankle</text>
<text class="w" x="83.5" y="418.5" text-anchor="middle">Sprained</text>
<text class="w" x="83.5" y="430.8" text-anchor="middle">knee</text>
<text class="d" x="521" y="143.8" text-anchor="middle">Spine</text>
<text class="d" x="521" y="156.1" text-anchor="middle">dislocation</text>
<text class="d" x="588" y="120.4" text-anchor="middle">Sprained</text>
<text class="d" x="588" y="132.7" text-anchor="middle">knee</text>
<text class="d" x="578" y="271.3" text-anchor="start">Sprained</text>
<text class="d" x="578" y="283.6" text-anchor="start">hand</text>
<text class="d" x="489" y="381.8" text-anchor="start">Head</text>
<text class="d" x="489" y="394.1" text-anchor="start">injury</text>
<text class="d" x="219" y="478.8" text-anchor="middle">Scrape</text>
</g>
<rect x="316" y="456.5" width="311.5" height="110" rx="4" ry="4" fill="#f3f3f3" stroke="#a6a6a6" stroke-width="1"/>
<text class="lt" x="329.5" y="480">Northeast</text>
<rect x="330.3" y="494.4" width="12" height="12" fill="#a862b0"/>
<text class="li" y="504.4"><tspan x="349.1">MA:</tspan><tspan x="374.4">Concussion</tspan></text>
<rect x="330.3" y="518" width="12" height="12" fill="#ff9f43"/>
<text class="li" y="528.0"><tspan x="349.1">RI:</tspan><tspan x="367.3">Sprained neck</tspan></text>
<rect x="330.3" y="541.4" width="12" height="12" fill="#ff9f43"/>
<text class="li" y="551.4"><tspan x="349.1">CT:</tspan><tspan x="369.8">Sprained back</tspan></text>
<rect x="473.3" y="494.4" width="12" height="12" fill="#ff9f43"/>
<text class="li" y="504.4"><tspan x="492.1">DE:</tspan><tspan x="515.4">Rotator cuff sprain</tspan></text>
<rect x="473.3" y="518" width="12" height="12" fill="#ff9f43"/>
<text class="li" y="528.0"><tspan x="492.1">MD:</tspan><tspan x="517.9">Sprained hand</tspan></text>
<rect x="473.3" y="541.4" width="12" height="12" fill="#f56b4e"/>
<text class="li" y="551.4"><tspan x="492.1">DC:</tspan><tspan x="516.4">Facial injury</tspan></text>
</svg></body></html>
